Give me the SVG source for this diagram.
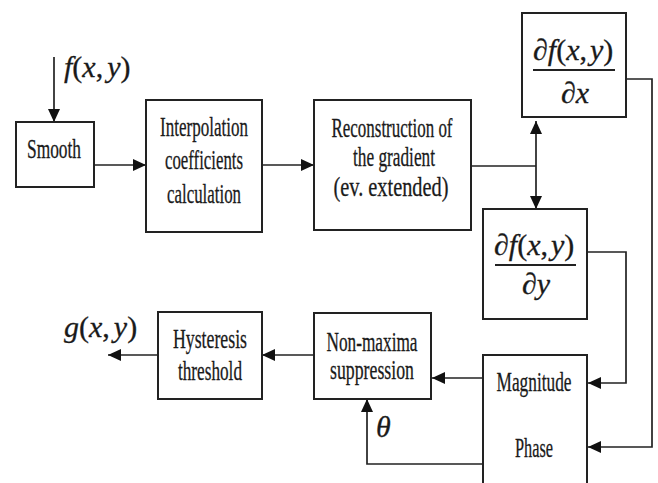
<svg xmlns="http://www.w3.org/2000/svg" width="658" height="483" viewBox="0 0 658 483" font-family="Liberation Serif, Times New Roman, serif">
<defs>
<marker id="ah" markerUnits="userSpaceOnUse" markerWidth="14" markerHeight="12" refX="13" refY="6" orient="auto">
<path d="M0,0 L13,6 L0,12 Z" fill="#111"/>
</marker>
<style>
.box{fill:#fff;stroke:#222;stroke-width:2}
.lbl{font-size:28px;fill:#1a1a1a;text-anchor:middle;stroke:#1a1a1a;stroke-width:0.3}
.m{font-size:30px;fill:#1a1a1a;stroke:#1a1a1a;stroke-width:0.3}
.i{font-style:italic}
.c{fill:none;stroke:#222;stroke-width:1.7}
.a{marker-end:url(#ah)}
.fr{stroke:#222;stroke-width:2}
</style>
</defs>
<rect width="658" height="483" fill="#fff"/>

<g id="connectors">
<path class="c a" d="M54,57 V122"/>
<path class="c a" d="M94,165 H146"/>
<path class="c a" d="M262,165 H314"/>
<path class="c" d="M471,166 H536"/>
<path class="c a" d="M536,166 V121"/>
<path class="c a" d="M536,166 V209"/>
<path class="c a" d="M626,79 H652 V447 H588"/>
<path class="c a" d="M587,252 H626 V383 H588"/>
<path class="c a" d="M483,378 H432"/>
<path class="c a" d="M483,464 H367 V399"/>
<path class="c a" d="M314,355 H262"/>
<path class="c a" d="M158,355 H108"/>
</g>

<g id="input-label">
<text class="m" x="64" y="77"><tspan class="i">f</tspan>(<tspan class="i">x</tspan>,<tspan class="i" dx="4">y</tspan>)</text>
</g>

<g id="smooth">
<rect class="box" x="16" y="122" width="78" height="65"/>
<text class="lbl" x="54" y="158" textLength="54" lengthAdjust="spacingAndGlyphs">Smooth</text>
</g>

<g id="interpolation">
<rect class="box" x="146" y="100" width="116" height="132"/>
<text class="lbl" x="204" y="136" textLength="88" lengthAdjust="spacingAndGlyphs">Interpolation</text>
<text class="lbl" x="204" y="169" textLength="78" lengthAdjust="spacingAndGlyphs">coefficients</text>
<text class="lbl" x="204" y="203" textLength="74" lengthAdjust="spacingAndGlyphs">calculation</text>
</g>

<g id="reconstruction">
<rect class="box" x="314" y="100" width="157" height="130"/>
<text class="lbl" x="392" y="137" textLength="121" lengthAdjust="spacingAndGlyphs">Reconstruction of</text>
<text class="lbl" x="394" y="166" textLength="82" lengthAdjust="spacingAndGlyphs">the gradient</text>
<text class="lbl" x="391" y="196" textLength="115" lengthAdjust="spacingAndGlyphs">(ev. extended)</text>
</g>

<g id="dfdx">
<rect class="box" x="522" y="13" width="104" height="104"/>
<text class="m" x="533" y="60">∂<tspan class="i">f</tspan>(<tspan class="i">x</tspan>,<tspan class="i" dx="3">y</tspan>)</text>
<line class="fr" x1="533" y1="70" x2="615" y2="70"/>
<text class="m" x="561" y="103">∂<tspan class="i">x</tspan></text>
</g>

<g id="dfdy">
<rect class="box" x="483" y="209" width="104" height="110"/>
<text class="m" x="494" y="255">∂<tspan class="i">f</tspan>(<tspan class="i">x</tspan>,<tspan class="i" dx="3">y</tspan>)</text>
<line class="fr" x1="495" y1="265" x2="576" y2="265"/>
<text class="m" x="522" y="294">∂<tspan class="i">y</tspan></text>
</g>

<g id="magnitude-phase">
<rect class="box" x="483" y="355" width="104" height="140"/>
<text class="lbl" x="534" y="391" textLength="75" lengthAdjust="spacingAndGlyphs">Magnitude</text>
<text class="lbl" x="534" y="457" textLength="38" lengthAdjust="spacingAndGlyphs">Phase</text>
</g>

<g id="nonmaxima">
<rect class="box" x="314" y="313" width="117" height="86"/>
<text class="lbl" x="372" y="351" textLength="91" lengthAdjust="spacingAndGlyphs">Non-maxima</text>
<text class="lbl" x="372" y="379" textLength="84" lengthAdjust="spacingAndGlyphs">suppression</text>
</g>

<g id="theta-label">
<text class="m i" x="376" y="437">θ</text>
</g>

<g id="hysteresis">
<rect class="box" x="158" y="312" width="104" height="87"/>
<text class="lbl" x="210" y="348" textLength="74" lengthAdjust="spacingAndGlyphs">Hysteresis</text>
<text class="lbl" x="210" y="380" textLength="64" lengthAdjust="spacingAndGlyphs">threshold</text>
</g>

<g id="output-label">
<text class="m" x="64" y="337"><tspan class="i">g</tspan>(<tspan class="i">x</tspan>,<tspan class="i" dx="4">y</tspan>)</text>
</g>
</svg>
